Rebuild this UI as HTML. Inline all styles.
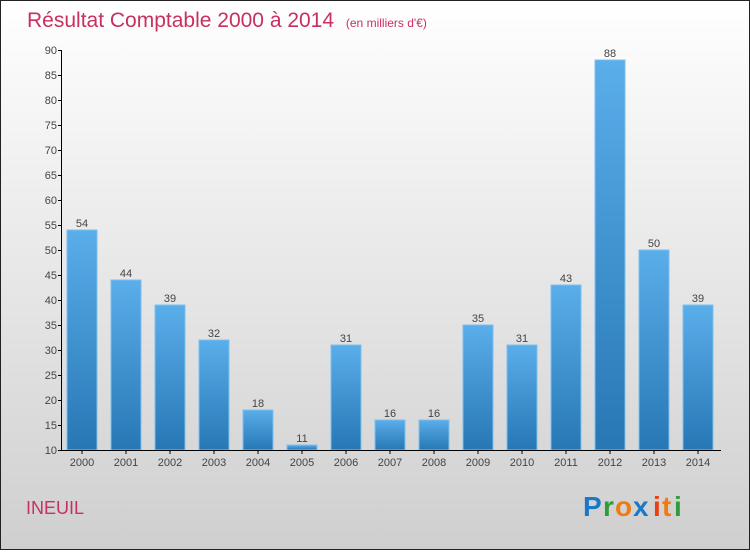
<!DOCTYPE html>
<html><head><meta charset="utf-8"><style>
html,body{margin:0;padding:0}
body{width:750px;height:550px;overflow:hidden;font-family:"Liberation Sans",sans-serif}
</style></head><body>
<svg width="750" height="550" xmlns="http://www.w3.org/2000/svg">
<defs>
<linearGradient id="bg" x1="0" y1="0" x2="0" y2="1"><stop offset="0" stop-color="#ffffff"/><stop offset="1" stop-color="#cfcfcf"/></linearGradient>
<linearGradient id="bar" x1="0" y1="0" x2="0" y2="1"><stop offset="0" stop-color="#5aaeea"/><stop offset="1" stop-color="#2777b5"/></linearGradient>
</defs>
<rect x="0.5" y="0.5" width="749" height="549" fill="url(#bg)" stroke="#222"/>
<text x="27" y="27" font-size="21" fill="#c8305f">Résultat Comptable 2000 à 2014 <tspan font-size="12" dx="6">(en milliers d'€)</tspan></text>
<g id="yaxis"></g><g id="bars"></g><g id="xaxis"></g>
<text x="26" y="514" font-size="18" fill="#c8305f">INEUIL</text>
<g font-size="28" font-weight="bold">
<text x="583" y="516" fill="#1a78c8">P</text><text x="603" y="516" fill="#2e9c3a">r</text><text x="615" y="516" fill="#f07c10">o</text><text x="633" y="516" fill="#1a78c8">x</text><text x="653" y="516" fill="#e84010">i</text><text x="662" y="516" fill="#f07c10">t</text><text x="674" y="516" fill="#2e9c3a">i</text>
</g>
</svg>
<script>
const categories=["2000","2001","2002","2003","2004","2005","2006","2007","2008","2009","2010","2011","2012","2013","2014"];
const values=[54,44,39,32,18,11,31,16,16,35,31,43,88,50,39];
const yTicks=[10,15,20,25,30,35,40,45,50,55,60,65,70,75,80,85,90];
const NS="http://www.w3.org/2000/svg";
function y(v){return 450-(v-10)*5;}
function x(i){return 82+44*i;}
function mk(tag,attrs,parent,txt){const e=document.createElementNS(NS,tag);for(const k in attrs)e.setAttribute(k,attrs[k]);if(txt!==undefined)e.textContent=txt;parent.appendChild(e);return e;}
const ya=document.getElementById('yaxis'),ba=document.getElementById('bars'),xa=document.getElementById('xaxis');
const al=mk('line',{x1:61.5,y1:50,x2:61.5,y2:450,stroke:'#000'},ya);


yTicks.forEach(t=>{
  const l=mk('line',{x1:58,x2:62,y1:y(t)+0.5,y2:y(t)+0.5,stroke:'#000'},ya);
  
  
  const tx=mk('text',{x:57,y:y(t)+4,'font-size':11,fill:'#444','text-anchor':'end'},ya,t);
  
  
});
const xl=mk('line',{x1:61,y1:450.5,x2:721,y2:450.5,stroke:'#000'},xa);


categories.forEach((c,i)=>{
  const v=values[i];
  const r=mk('rect',{x:x(i)-15,y:y(v),width:30,height:450-y(v),fill:'url(#bar)',stroke:'#7cc0f0','stroke-width':1},ba);
  
  
  const vl=mk('text',{x:x(i),y:y(v)-3,'font-size':11,fill:'#444','text-anchor':'middle'},ba,v);
  
  
  const tk=mk('line',{x1:x(i),x2:x(i),y1:450,y2:454,stroke:'#000'},xa);
  
  
  const xt=mk('text',{x:x(i),y:466,'font-size':11,fill:'#444','text-anchor':'middle'},xa,c);
  
  
});
</script>
</body></html>
